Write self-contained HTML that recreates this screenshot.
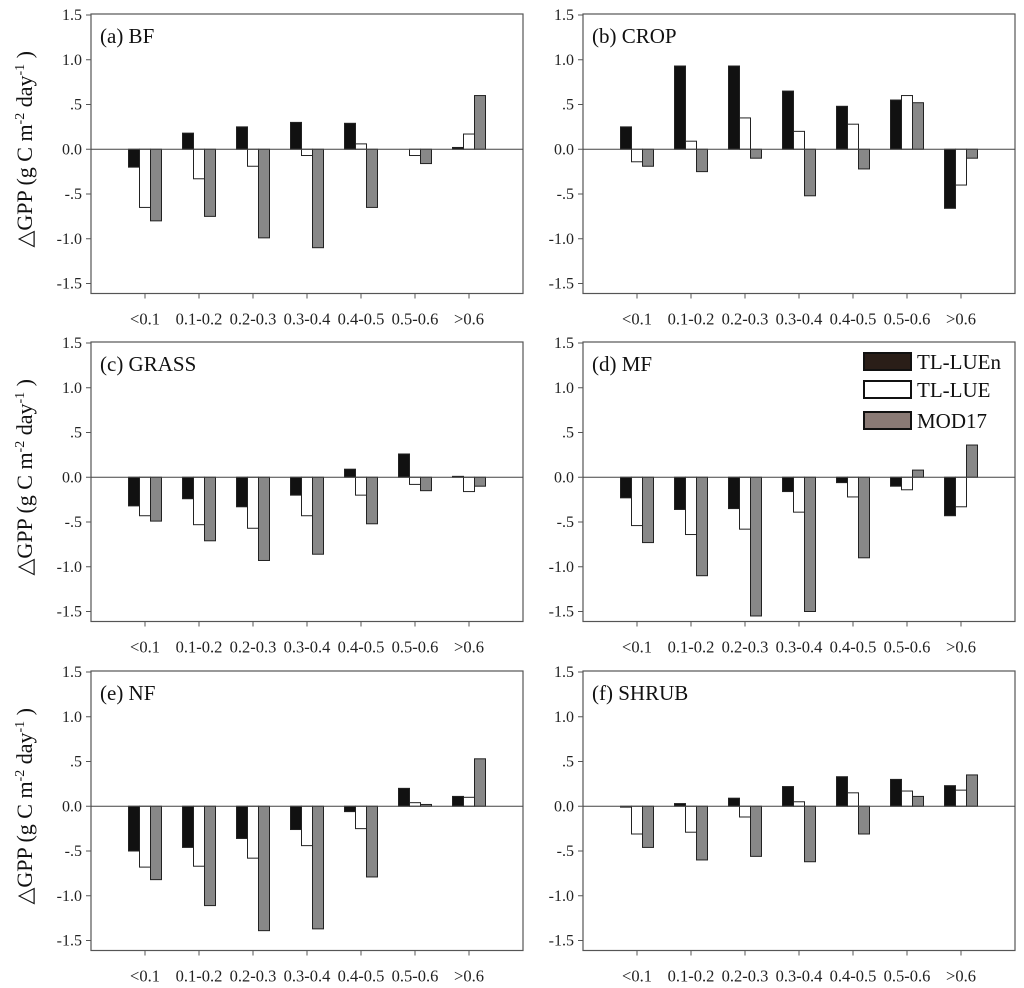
<!DOCTYPE html>
<html><head><meta charset="utf-8"><style>
html,body{margin:0;padding:0;background:#fff;}
svg{display:block;font-family:"Liberation Serif",serif;}
</style></head><body>
<svg id="chart" width="1024" height="988" viewBox="0 0 1024 988"></svg>
<script>
const categories = ["<0.1","0.1-0.2","0.2-0.3","0.3-0.4","0.4-0.5","0.5-0.6",">0.6"];
const seriesNames = ["TL-LUEn","TL-LUE","MOD17"];
const yTicks = [1.5,1.0,0.5,0.0,-0.5,-1.0,-1.5];
const yTickLabels = ["1.5","1.0",".5","0.0","-.5","-1.0","-1.5"];
const panelTitles = ["(a) BF","(b) CROP","(c) GRASS","(d) MF","(e) NF","(f) SHRUB"];
const bfN = [-0.2,0.18,0.25,0.3,0.29,0.0,0.02];
const bfL = [-0.65,-0.33,-0.19,-0.07,0.06,-0.07,0.17];
const bfM = [-0.8,-0.75,-0.99,-1.1,-0.65,-0.16,0.6];
const cropN = [0.25,0.93,0.93,0.65,0.48,0.55,-0.66];
const cropL = [-0.14,0.09,0.35,0.2,0.28,0.6,-0.4];
const cropM = [-0.19,-0.25,-0.1,-0.52,-0.22,0.52,-0.1];
const grassN = [-0.32,-0.24,-0.33,-0.2,0.09,0.26,0.01];
const grassL = [-0.43,-0.53,-0.57,-0.43,-0.2,-0.08,-0.16];
const grassM = [-0.49,-0.71,-0.93,-0.86,-0.52,-0.15,-0.1];
const mfN = [-0.23,-0.36,-0.35,-0.16,-0.06,-0.1,-0.43];
const mfL = [-0.54,-0.64,-0.58,-0.39,-0.22,-0.14,-0.33];
const mfM = [-0.73,-1.1,-1.55,-1.5,-0.9,0.08,0.36];
const nfN = [-0.5,-0.46,-0.36,-0.26,-0.06,0.2,0.11];
const nfL = [-0.68,-0.67,-0.58,-0.44,-0.25,0.04,0.1];
const nfM = [-0.82,-1.11,-1.39,-1.37,-0.79,0.02,0.53];
const shrubN = [-0.01,0.03,0.09,0.22,0.33,0.3,0.23];
const shrubL = [-0.31,-0.29,-0.12,0.05,0.15,0.17,0.18];
const shrubM = [-0.46,-0.6,-0.56,-0.62,-0.31,0.11,0.35];
const panelData = [[bfN,bfL,bfM],[cropN,cropL,cropM],[grassN,grassL,grassM],[mfN,mfL,mfM],[nfN,nfL,nfM],[shrubN,shrubL,shrubM]];

const NS="http://www.w3.org/2000/svg";
const svg=document.getElementById('chart');
function mk(tag,attrs,parent){const e=document.createElementNS(NS,tag);for(const k in attrs)e.setAttribute(k,attrs[k]);(parent||svg).appendChild(e);return e;}
const fills=["#111","#fff","#888"];
const colX=[91,583], rowTop=[15,343,672];
const W=432, unit=89.5, bw=11;
panelData.forEach((data,pi)=>{
  const col=pi%2,row=Math.floor(pi/2);
  const x0=colX[col], top=rowTop[row];
  const y=v=>top+(1.5-v)*unit;
  const xc=i=>x0+54*(i+1);
  const g=mk('g',{});
  
  
  const frame=mk('rect',{x:x0,y:top-1,width:W,height:y(-1.5)+10-(top-1),fill:'none',stroke:'#555','stroke-width':1.2},g);
  
  
  yTicks.forEach((t,i)=>{
    mk('line',{x1:x0-5,x2:x0,y1:y(t),y2:y(t),stroke:'#555'},g);
    const tx=mk('text',{x:x0-9,y:y(t)+5,'text-anchor':'end','font-size':16,fill:'#222'},g);
    tx.textContent=yTickLabels[i];
    
    
  });
  categories.forEach((c,i)=>{
    mk('line',{x1:xc(i),x2:xc(i),y1:y(-1.5)+10,y2:y(-1.5)+15,stroke:'#555'},g);
    const tx=mk('text',{x:xc(i),y:y(-1.5)+41,'text-anchor':'middle','font-size':16.5,fill:'#222'},g);
    tx.textContent=c;
    
    
  });
  data.forEach((ser,si)=>{
    ser.forEach((v,i)=>{
      const bx=xc(i)-16.5+si*bw;
      const r=mk('rect',{x:bx,y:Math.min(y(v),y(0)),width:bw,height:Math.abs(y(v)-y(0)),fill:fills[si],stroke:'#222','stroke-width':1},g);
      
      
    });
  });
  mk('line',{x1:x0,x2:x0+W,y1:y(0),y2:y(0),stroke:'#444','stroke-width':1},g);
  const tt=mk('text',{x:x0+9,y:top+28,'font-size':21,fill:'#111'},g);
  tt.textContent=panelTitles[pi];
  
  
  if(col===0){
    const cy=y(0);
    const yt=mk('text',{x:0,y:0,'font-size':22,fill:'#111','text-anchor':'middle',transform:`translate(32,${cy}) rotate(-90)`},g);
    yt.innerHTML='△GPP (g C m<tspan font-size="14" dy="-8">-2</tspan><tspan dy="8"> day</tspan><tspan font-size="14" dy="-8">-1</tspan><tspan dy="8"> )</tspan>';
    
    
  }
});
const lg=mk('g',{});


const legFill=["#2a1e18","#fff","#8a7a75"];
const legY=[353,381,412];
seriesNames.forEach((n,i)=>{
  const r=mk('rect',{x:864,y:legY[i],width:47,height:17,fill:legFill[i],stroke:'#111','stroke-width':2},lg);
  
  
  const t=mk('text',{x:917,y:legY[i]+16,'font-size':21,fill:'#111'},lg);
  t.textContent=n;
  
  
});
</script>
</body></html>
